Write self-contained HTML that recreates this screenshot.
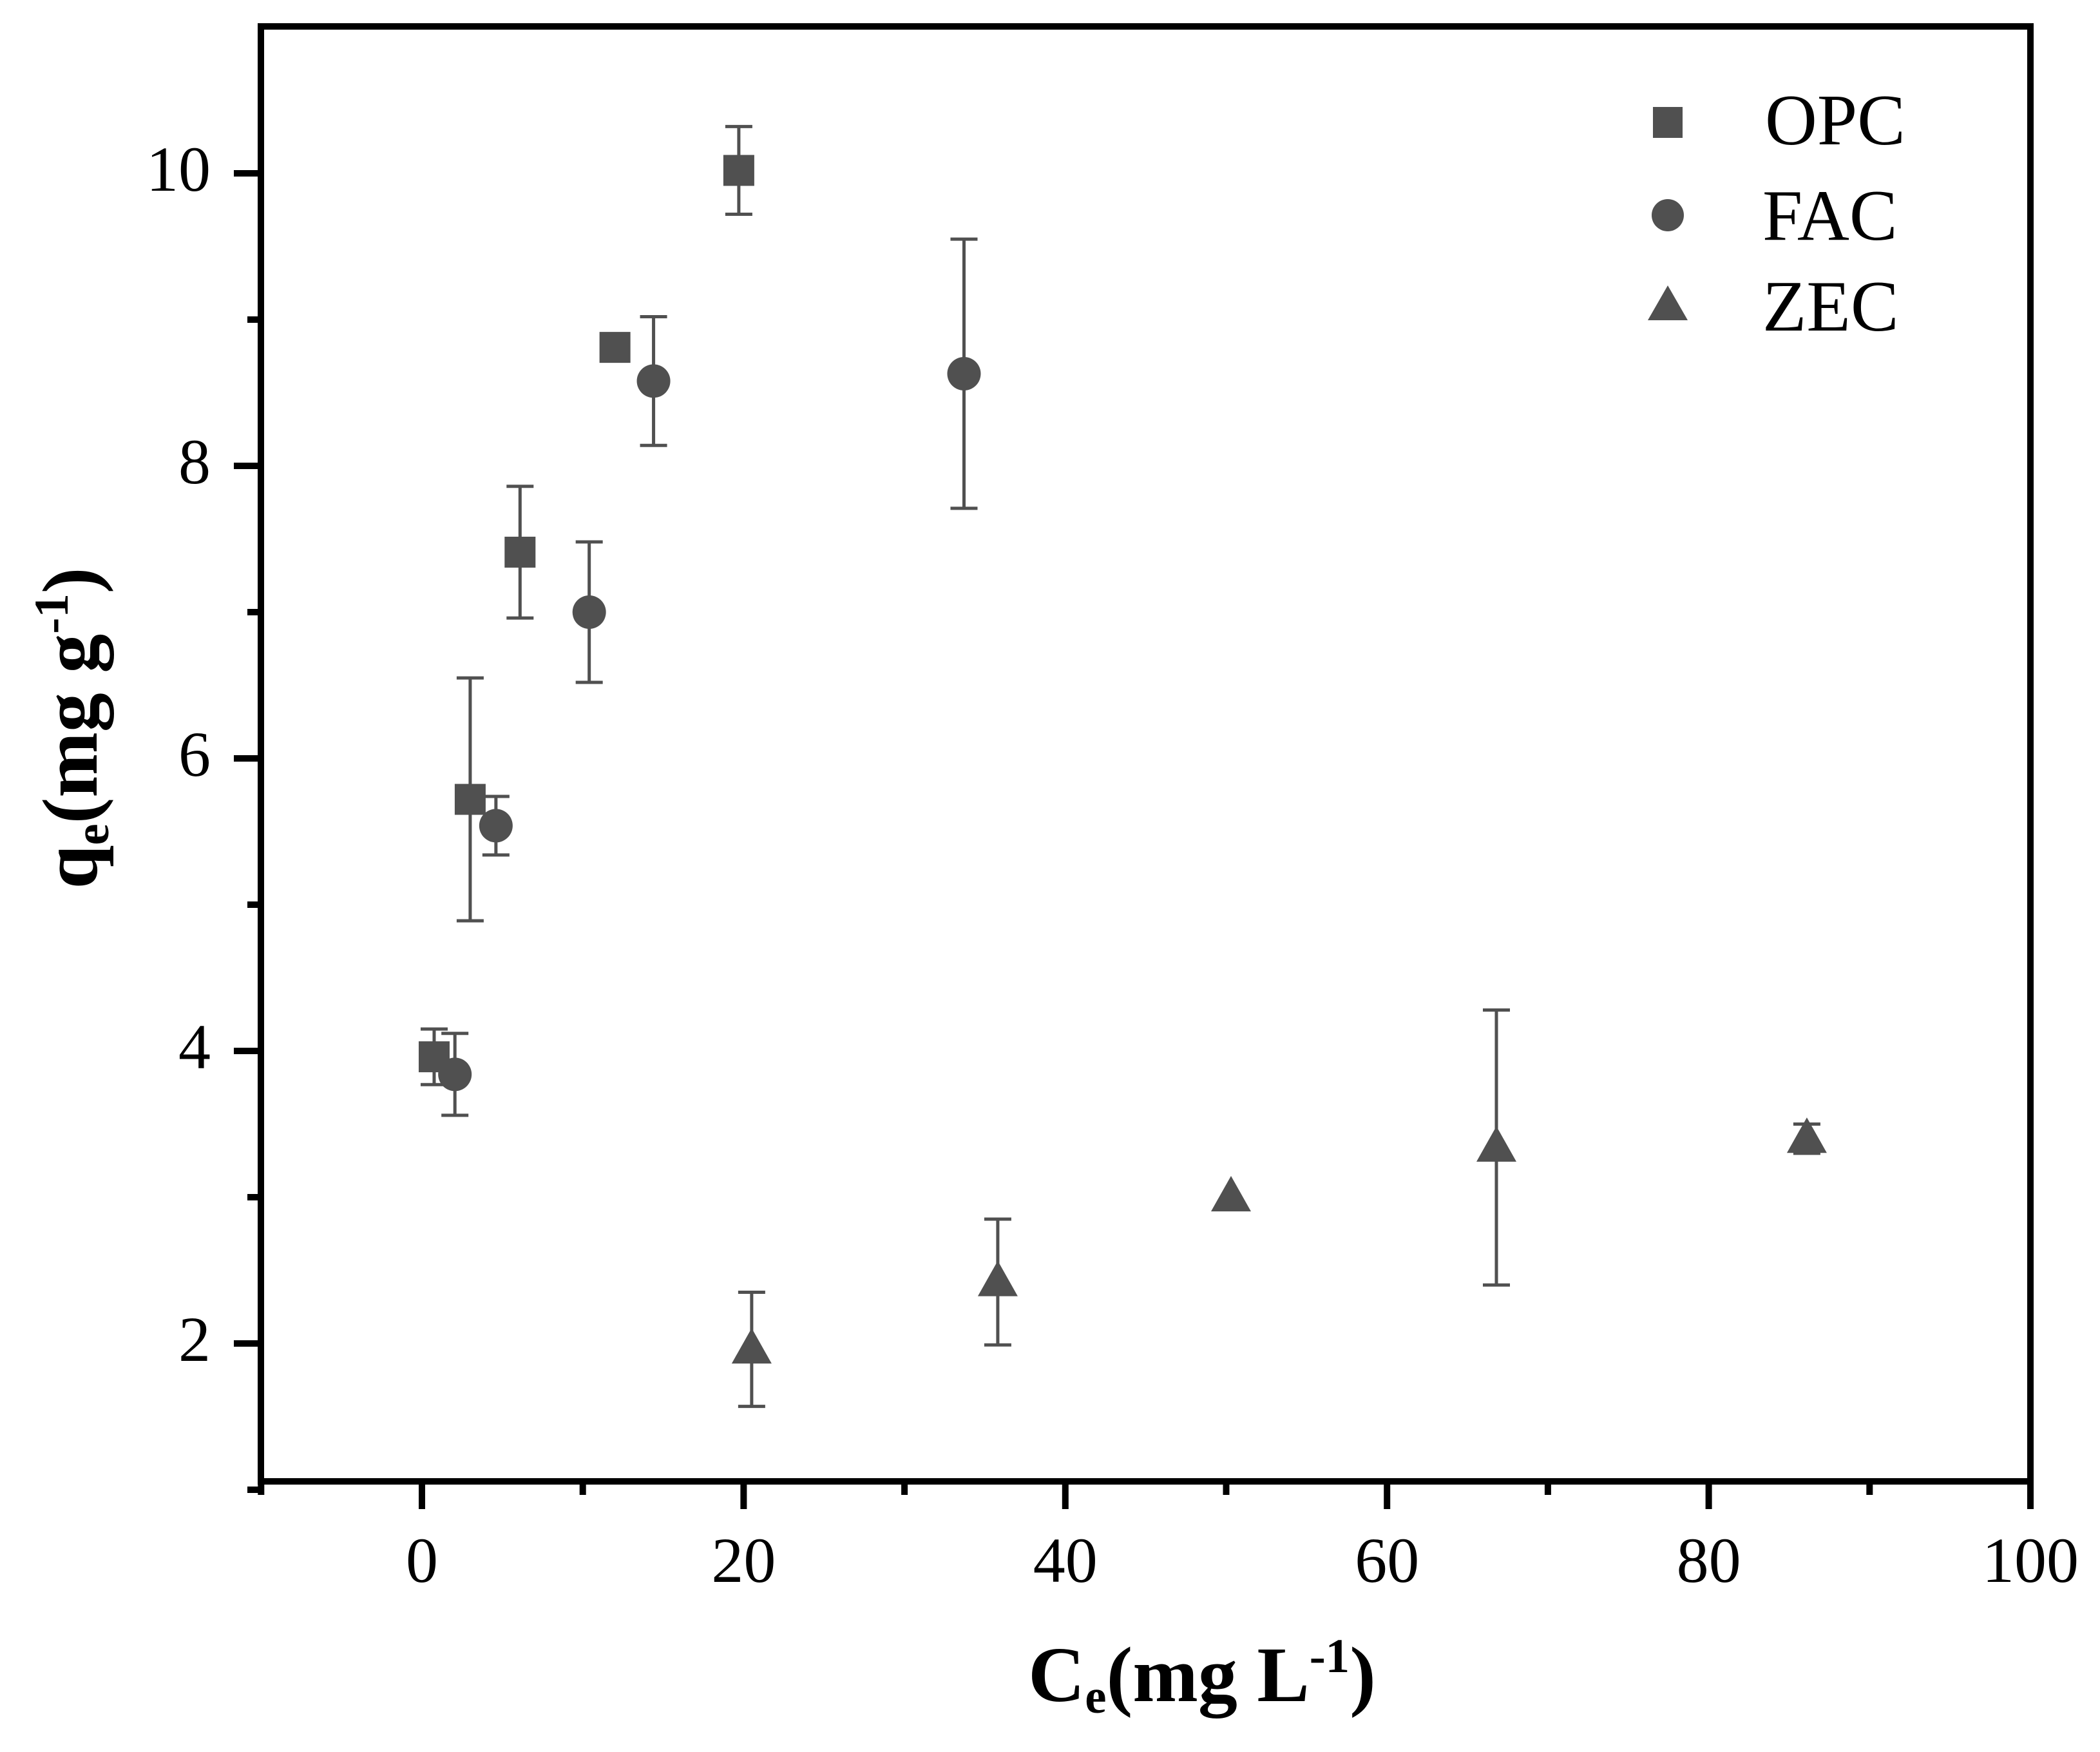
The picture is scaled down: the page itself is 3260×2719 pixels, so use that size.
<!DOCTYPE html>
<html><head><meta charset="utf-8"><style>
html,body{margin:0;padding:0;background:#fff;}
svg{display:block;}
text{font-family:"Liberation Serif",serif;}
</style></head><body>
<svg id="chart" width="3260" height="2719" viewBox="0 0 3260 2719" xmlns="http://www.w3.org/2000/svg">
<rect width="3260" height="2719" fill="#fff"/>
<g id="marks"></g>
<g id="axes"></g>
<text transform="translate(150,1130) rotate(-90)" text-anchor="middle" font-size="122" font-weight="bold">q<tspan font-size="75" dy="18">e</tspan><tspan dy="-18">(mg g</tspan><tspan font-size="75" dy="-45">-1</tspan><tspan dy="45">)</tspan></text>
<text x="1866" y="2640" text-anchor="middle" font-size="122" font-weight="bold">C<tspan font-size="75" dy="18">e</tspan><tspan dy="-18">(mg L</tspan><tspan font-size="75" dy="-45">-1</tspan><tspan dy="45">)</tspan></text>
<g>
<rect x="2566" y="166" width="46" height="48" fill="#505050"/>
<text x="2740" y="224" font-size="112">OPC</text>
<circle cx="2589" cy="334" r="25" fill="#505050"/>
<text x="2736" y="372" font-size="112">FAC</text>
<polygon points="2589,443 2620,497 2558,497" fill="#505050"/>
<text x="2736" y="513" font-size="112">ZEC</text>
</g>
</svg>
<script>
const opcX=[0.76,3,6.1,12,19.7];
const opcY=[3.96,5.72,7.41,8.81,10.02];
const opcErr=[0.19,0.83,0.45,0,0.3];
const facX=[2.05,4.6,10.4,14.4,33.7];
const facY=[3.84,5.54,7.0,8.58,8.63];
const facErr=[0.28,0.2,0.48,0.44,0.92];
const zecX=[20.5,35.8,50.3,66.8,86.1];
const zecY=[1.96,2.42,3.0,3.34,3.4];
const zecErr=[0.39,0.43,0,0.94,0.1];
const xTicks=[0,20,40,60,80,100];
const xMinor=[-10,10,30,50,70,90];
const yTicks=[2,4,6,8,10];
const yMinor=[1,3,5,7,9];

const NS="http://www.w3.org/2000/svg";
const L=405,R=3152,T=41,B=2299;
function xs(v){return 655+v*24.97;}
function ys(v){return 269+(10-v)*227;}
function mk(tag,attrs,parent){const e=document.createElementNS(NS,tag);for(const k in attrs)e.setAttribute(k,attrs[k]);parent.appendChild(e);return e;}
const axes=document.getElementById('axes');
const marks=document.getElementById('marks');
const col="#505050";

let fr=mk('rect',{x:L,y:T,width:R-L,height:B-T,fill:'none',stroke:'#000','stroke-width':10},axes);



xTicks.forEach(v=>{
  const t=mk('line',{x1:xs(v),x2:xs(v),y1:B,y2:B+43,stroke:'#000','stroke-width':10},axes);
  
  
  const l=mk('text',{x:xs(v),y:2455,'text-anchor':'middle','font-size':100},axes);
  
  
  l.textContent=v;
});
xMinor.forEach(v=>{
  const t=mk('line',{x1:xs(v),x2:xs(v),y1:B,y2:B+21,stroke:'#000','stroke-width':10},axes);
  
  
});
yTicks.forEach(v=>{
  const t=mk('line',{x1:L-42,x2:L,y1:ys(v),y2:ys(v),stroke:'#000','stroke-width':10},axes);
  
  
  const l=mk('text',{x:327,y:ys(v)+27,'text-anchor':'end','font-size':100},axes);
  
  
  l.textContent=v;
});
yMinor.forEach(v=>{
  const t=mk('line',{x1:L-21,x2:L,y1:ys(v),y2:ys(v),stroke:'#000','stroke-width':10},axes);
  
  
});

function errbar(x,y,e,name){
  if(e<=0)return;
  const g=mk('g',{stroke:col,'stroke-width':5},marks);
  
  
  const cx=xs(x),t=ys(y+e),b=ys(y-e);
  mk('line',{x1:cx,x2:cx,y1:t,y2:b},g);
  mk('line',{x1:cx-21,x2:cx+21,y1:t,y2:t},g);
  mk('line',{x1:cx-21,x2:cx+21,y1:b,y2:b},g);
}
opcX.forEach((x,i)=>{
  errbar(x,opcY[i],opcErr[i],'opc-error-bar');
  const p=mk('rect',{x:xs(x)-24,y:ys(opcY[i])-24,width:48,height:48,fill:col},marks);
  
  
});
facX.forEach((x,i)=>{
  errbar(x,facY[i],facErr[i],'fac-error-bar');
  const p=mk('circle',{cx:xs(x),cy:ys(facY[i]),r:26,fill:col},marks);
  
  
});
zecX.forEach((x,i)=>{
  errbar(x,zecY[i],zecErr[i],'zec-error-bar');
  const cx=xs(x),cy=ys(zecY[i]);
  const p=mk('polygon',{points:`${cx},${cy-33} ${cx+31},${cy+22} ${cx-31},${cy+22}`,fill:col},marks);
  
  
});
</script>
</body></html>
